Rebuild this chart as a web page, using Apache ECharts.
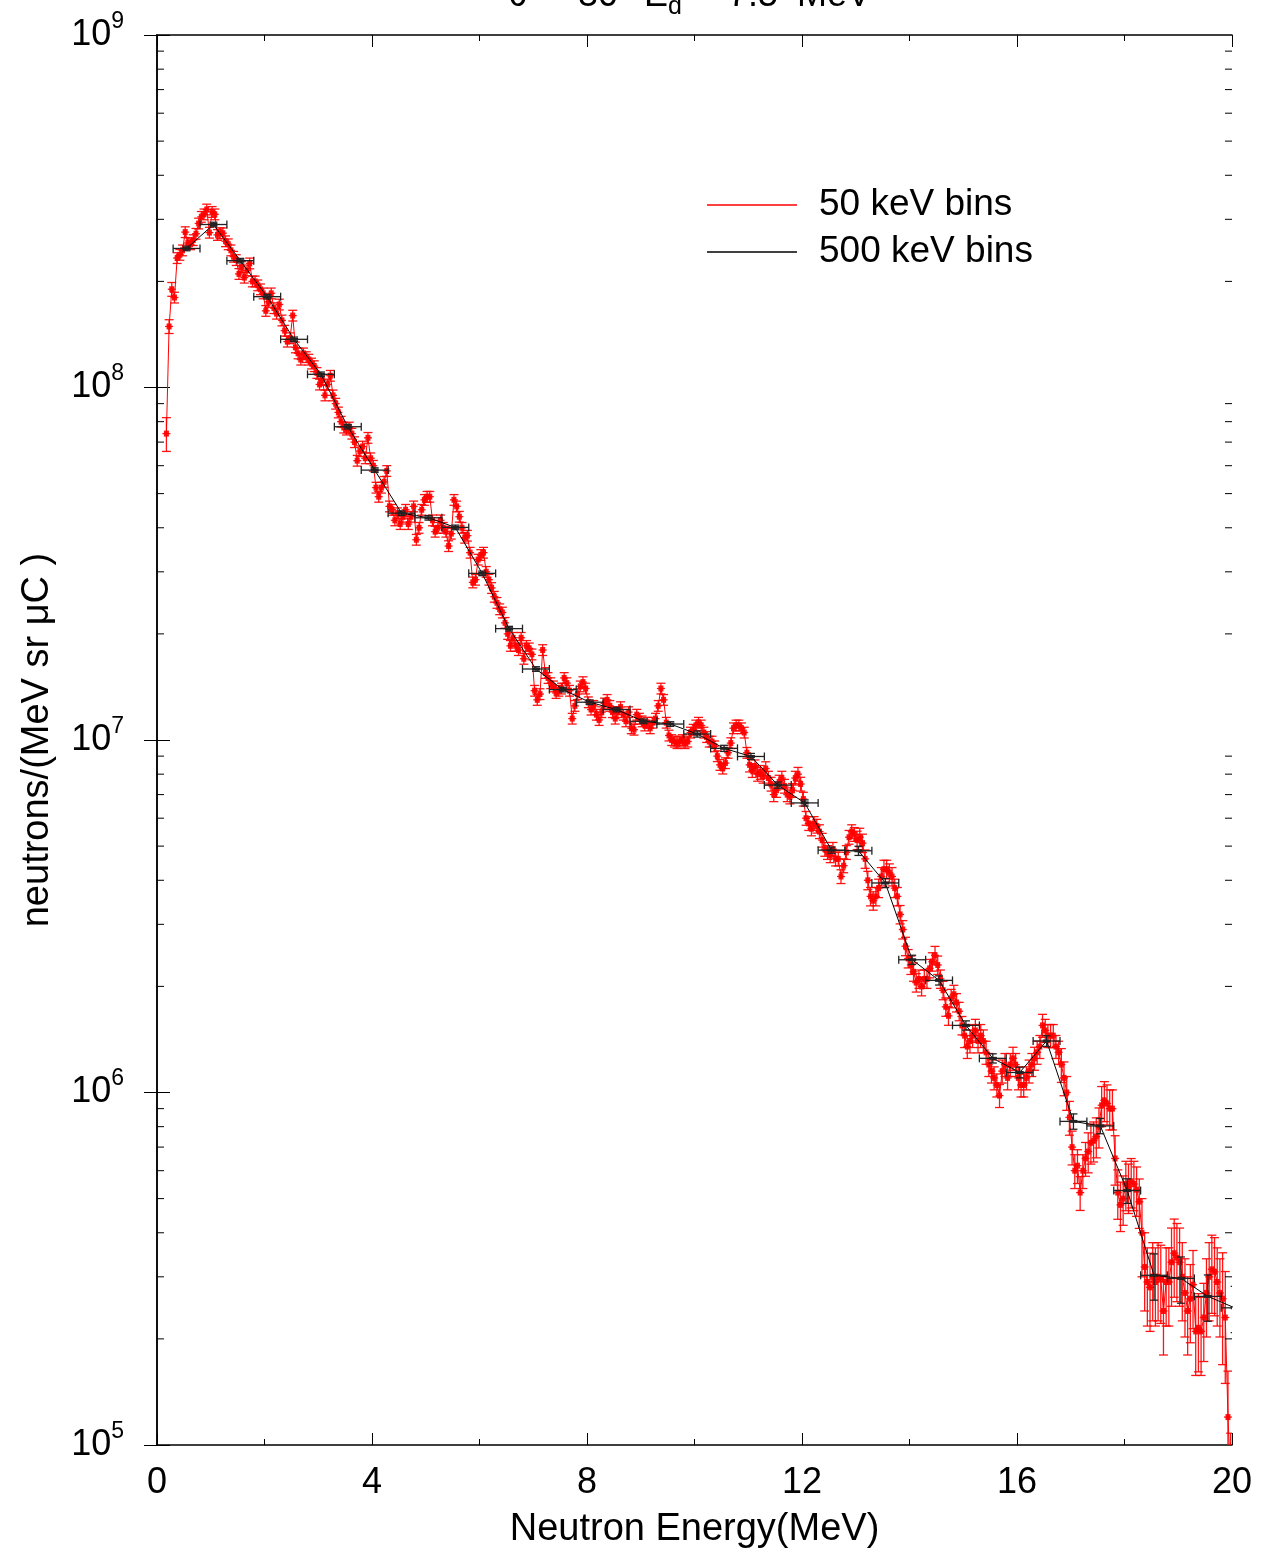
<!DOCTYPE html>
<html><head><meta charset="utf-8">
<script src="https://cdn.jsdelivr.net/npm/echarts@6/dist/echarts.min.js"></script>
<style>html,body{margin:0;padding:0;background:#fff}#c{width:1266px;height:1564px}</style>
</head><body><div id="c"></div>
<script>
// ---------------- data ----------------
const redStartE = 0.175;   // MeV, centre of first 50 keV bin
const redBinW = 0.05;      // MeV
const red50keV = [
  7.4e7, 1.49e8, 1.9e8,
  1.8e8, 2.33e8, 2.38e8, 2.45e8, 2.76e8, 2.57e8, 2.55e8, 2.62e8, 2.73e8, 2.92e8,
  3.05e8, 3.1e8, 3.2e8, 2.75e8, 3.15e8, 3.1e8, 2.71e8, 2.74e8, 2.74e8, 2.6e8,
  2.55e8, 2.45e8, 2.35e8, 2.3e8, 2.1e8, 2.2e8, 2.05e8, 2.15e8, 2.25e8, 2.0e8,
  2.0e8, 1.95e8, 1.9e8, 1.85e8, 1.65e8, 1.75e8, 1.85e8, 1.68e8, 1.62e8, 1.72e8,
  1.55e8, 1.45e8, 1.35e8, 1.38e8, 1.6e8, 1.3e8, 1.25e8, 1.2e8, 1.25e8, 1.22e8,
  1.2e8, 1.17e8, 1.15e8, 1.1e8, 1.02e8, 1.05e8, 9.5e7, 1.02e8, 1.08e8, 9.5e7,
  9.0e7, 8.5e7, 8.0e7, 7.7e7, 7.6e7, 7.7e7, 7.4e7, 7.0e7, 6.2e7, 6.6e7,
  6.8e7, 6.3e7, 7.2e7, 6.3e7, 6.0e7, 5.2e7, 4.9e7, 5.2e7, 5.4e7, 5.8e7,
  4.6e7, 4.5e7, 4.2e7, 4.4e7, 4.1e7, 4.3e7, 4.5e7, 4.1e7, 4.3e7, 4.6e7,
  3.7e7, 4.0e7, 4.5e7, 4.8e7, 4.9e7, 4.9e7, 4.2e7, 3.9e7, 4.0e7, 4.2e7,
  4.0e7, 3.9e7, 3.55e7, 3.85e7, 4.8e7, 4.6e7, 4.3e7, 4.0e7, 3.75e7, 3.8e7,
  3.4e7, 2.8e7, 2.85e7, 3.25e7, 3.35e7, 3.4e7, 3.0e7, 2.85e7, 2.7e7, 2.55e7,
  2.45e7, 2.35e7, 2.3e7, 2.15e7, 2.0e7, 1.85e7, 1.95e7, 1.85e7, 1.8e7, 1.95e7,
  1.7e7, 1.85e7, 1.82e7, 1.75e7, 1.38e7, 1.3e7, 1.35e7, 1.8e7, 1.55e7, 1.5e7,
  1.45e7, 1.42e7, 1.36e7, 1.38e7, 1.4e7, 1.5e7, 1.45e7, 1.38e7, 1.15e7, 1.25e7,
  1.35e7, 1.42e7, 1.46e7, 1.4e7, 1.28e7, 1.22e7, 1.25e7, 1.18e7, 1.14e7, 1.2e7,
  1.27e7, 1.3e7, 1.25e7, 1.2e7, 1.15e7, 1.2e7, 1.24e7, 1.18e7, 1.13e7, 1.2e7,
  1.08e7, 1.07e7, 1.18e7, 1.15e7, 1.13e7, 1.1e7, 1.12e7, 1.08e7, 1.12e7, 1.15e7,
  1.25e7, 1.4e7, 1.3e7, 1.12e7, 1.03e7, 1.0e7, 9.9e6, 9.8e6, 9.9e6, 1.0e7,
  9.8e6, 9.9e6, 1.05e7, 1.07e7, 1.1e7, 1.12e7, 1.1e7, 1.05e7, 1.02e7, 9.9e6,
  9.9e6, 9.6e6, 9.0e6, 8.5e6, 8.3e6, 8.6e6, 9.2e6, 9.8e6, 1.08e7, 1.1e7,
  1.1e7, 1.08e7, 1.05e7, 9.2e6, 8.5e6, 8.2e6, 8.4e6, 8.0e6, 8.1e6, 7.9e6,
  8.3e6, 7.8e6, 7.5e6, 7.0e6, 7.2e6, 7.6e6, 7.8e6, 7.4e6, 7.0e6, 6.9e6,
  7.2e6, 7.8e6, 8.0e6, 7.5e6, 6.8e6, 6.0e6, 5.8e6, 5.6e6, 5.8e6, 5.7e6,
  5.5e6, 5.2e6, 4.9e6, 4.8e6, 4.7e6, 4.9e6, 4.6e6, 4.6e6, 4.1e6, 4.4e6,
  4.8e6, 5.3e6, 5.5e6, 5.4e6, 5.2e6, 5.3e6, 5.1e6, 4.6e6, 4.0e6, 3.6e6,
  3.5e6, 3.6e6, 3.8e6, 4.1e6, 4.3e6, 4.3e6, 4.2e6, 4.1e6, 3.8e6, 3.6e6,
  3.2e6, 2.9e6, 2.6e6, 2.4e6, 2.3e6, 2.2e6, 2.05e6, 2.1e6, 2.0e6, 2.1e6,
  2.1e6, 2.25e6, 2.35e6, 2.45e6, 2.3e6, 2.1e6, 1.95e6, 1.75e6, 1.65e6, 1.85e6,
  1.9e6, 1.8e6, 1.7e6, 1.55e6, 1.45e6, 1.35e6, 1.4e6, 1.45e6, 1.5e6, 1.4e6,
  1.45e6, 1.4e6, 1.3e6, 1.2e6, 1.15e6, 1.1e6, 1.05e6, 9.8e5, 1.15e6, 1.2e6,
  1.1e6, 1.2e6, 1.25e6, 1.2e6, 1.1e6, 1.05e6, 1.05e6, 1.1e6, 1.15e6, 1.2e6,
  1.25e6, 1.3e6, 1.35e6, 1.55e6, 1.5e6, 1.45e6, 1.45e6, 1.45e6, 1.35e6, 1.3e6,
  1.2e6, 1.1e6, 1.0e6, 8.5e5, 7.0e5, 6.0e5, 6.2e5, 5.2e5, 6.0e5, 6.5e5,
  6.8e5, 7.2e5, 7.3e5, 7.5e5, 8.0e5, 9.2e5, 9.5e5, 9.3e5, 9.0e5, 9.0e5,
  6.5e5, 5.2e5, 4.8e5, 5.0e5, 5.5e5, 5.4e5, 5.6e5, 5.5e5, 5.3e5, 4.9e5,
  4.0e5, 3.2e5, 2.9e5, 2.8e5, 3.0e5, 2.9e5, 3.0e5, 2.95e5, 2.4e5, 2.9e5,
  2.9e5, 3.3e5, 3.5e5, 3.4e5, 3.3e5, 3.0e5, 2.7e5, 2.4e5, 2.6e5, 2.85e5,
  2.1e5, 2.15e5, 2.1e5, 2.3e5, 2.7e5, 3.0e5, 3.15e5, 3.1e5, 2.9e5, 2.7e5,
  2.6e5, 2.3e5, 1.2e5, 8.0e4
];
// relative error of the 50 keV points, by energy range [from MeV, rel. error]
const redErrSteps = [[0.15,0.11],[0.2,0.045],[0.3,0.035],[11,0.045],[13,0.06],[15,0.075],[16.8,0.11],[17.3,0.13],[17.8,0.16],[18.3,0.25],[19.8,0.35]];

const blackStartE = 0.55;  // MeV, centre of first 500 keV bin
const blackBinW = 0.5;     // MeV
const black500keV = [
  2.48e8, 2.9e8, 2.29e8, 1.81e8, 1.37e8, 1.09e8, 7.74e7, 5.83e7, 4.4e7, 4.27e7,
  4.01e7, 2.97e7, 2.07e7, 1.59e7, 1.39e7, 1.28e7, 1.22e7, 1.13e7, 1.11e7, 1.04e7,
  9.47e6, 8.98e6, 7.45e6, 6.63e6, 4.87e6, 4.85e6, 3.93e6, 2.38e6, 2.08e6, 1.55e6,
  1.25e6, 1.14e6, 1.40e6, 8.28e5, 8.04e5, 5.27e5, 3.03e5, 2.97e5, 2.64e5, 2.45e5
];
const blackErrSteps = [[0,0.015],[10,0.02],[13,0.03],[16,0.035],[17,0.05],[18,0.08],[18.3,0.15]];

const xTicks = [0, 4, 8, 12, 16, 20];
const yDecades = [5, 6, 7, 8, 9];
const yMinorTicks = [];
for (let d = 5; d < 9; d++) for (let m = 2; m <= 9; m++) yMinorTicks.push(m * Math.pow(10, d));

// ---------------- chart ----------------
const FONT = "'Liberation Sans', Arial, Helvetica, sans-serif";
function relErr(steps, e) { let r = steps[0][1]; for (const s of steps) if (e >= s[0]) r = s[1]; return r; }

const redData = red50keV.map((v, i) => {
  const e = +(redStartE + i * redBinW).toFixed(3);
  const r = relErr(redErrSteps, e);
  return [e, v, v * (1 - r), v * (1 + r)];
});
const blackData = black500keV.map((v, i) => {
  const e = +(blackStartE + i * blackBinW).toFixed(3);
  const r = relErr(blackErrSteps, e);
  return [e, v, v * (1 - r), v * (1 + r)];
});

const RED = 'rgba(255,0,0,0.92)';
const DARK = '#222';

const chart = echarts.init(document.getElementById('c'), null, { renderer: 'canvas' });
chart.setOption({
  animation: false,
  backgroundColor: '#fff',
  textStyle: { fontFamily: FONT },
  grid: { left: 157, right: 34, top: 35, bottom: 119, containLabel: false },
  legend: {
    data: [
      { name: '50 keV bins', icon: 'rect', itemStyle: { color: '#ff0000' } },
      { name: '500 keV bins', icon: 'rect', itemStyle: { color: '#000' } }
    ],
    orient: 'vertical', left: 702, top: 180,
    itemWidth: 90, itemHeight: 1.3, itemGap: 7,
    textStyle: { fontSize: 37, color: '#000', fontFamily: FONT, lineHeight: 40, padding: [0, 0, 0, 17] },
    selectedMode: false
  },
  graphic: [
    { type: 'text', x: 508, y: 14, style: { text: 'θ =', fontSize: 36, fontFamily: FONT, fill: '#000', verticalAlign: 'bottom' } },
    { type: 'text', x: 578, y: 14, style: { text: '30°', fontSize: 36, fontFamily: FONT, fill: '#000', verticalAlign: 'bottom' } },
    { type: 'text', x: 644, y: 14, style: { text: 'E', fontSize: 36, fontFamily: FONT, fill: '#000', verticalAlign: 'bottom' } },
    { type: 'text', x: 668, y: 20, style: { text: 'd', fontSize: 25, fontFamily: FONT, fill: '#000', verticalAlign: 'bottom' } },
    { type: 'text', x: 697, y: 14, style: { text: '= 7.5', fontSize: 36, fontFamily: FONT, fill: '#000', verticalAlign: 'bottom' } },
    { type: 'text', x: 797, y: 14, style: { text: 'MeV', fontSize: 36, fontFamily: FONT, fill: '#000', verticalAlign: 'bottom' } }
  ],
  xAxis: [{
    type: 'value', min: 0, max: 20, interval: 4,
    name: 'Neutron Energy(MeV)', nameLocation: 'middle', nameGap: 66,
    nameTextStyle: { fontSize: 38, color: '#000', fontFamily: FONT },
    axisLine: { show: true, lineStyle: { color: '#000', width: 1.5 } },
    axisTick: { show: true, inside: true, length: 12, lineStyle: { color: '#000', width: 1 } },
    minorTick: { show: true, splitNumber: 2, length: 6, lineStyle: { color: '#000', width: 1 } },
    axisLabel: { fontSize: 36, color: '#000', margin: 20, fontFamily: FONT,
      formatter: v => (xTicks.indexOf(v) >= 0 ? String(v) : '') },
    splitLine: { show: false }
  }, {
    type: 'value', min: 0, max: 20, interval: 4, position: 'top',
    axisLine: { show: true, lineStyle: { color: '#000', width: 1.5 } },
    axisTick: { show: true, inside: true, length: 12, lineStyle: { color: '#000', width: 1 } },
    minorTick: { show: true, splitNumber: 2, length: 6, lineStyle: { color: '#000', width: 1 } },
    axisLabel: { show: false }, splitLine: { show: false }
  }],
  yAxis: [{
    type: 'log', logBase: 10, min: 1e5, max: 1e9,
    name: 'neutrons/(MeV sr μC )', nameLocation: 'middle', nameGap: 100, nameRotate: 90,
    nameTextStyle: { fontSize: 38, color: '#000', fontFamily: FONT },
    axisLine: { show: true, lineStyle: { color: '#000', width: 1.5 } },
    axisTick: { show: true, inside: true, length: 13, lineStyle: { color: '#000', width: 1 } },
    axisLabel: {
      margin: 33, color: '#000', fontFamily: FONT,
      formatter: v => { const e = Math.round(Math.log10(v)); return yDecades.indexOf(e) >= 0 ? '{b|10}{s|' + e + '}' : ''; },
      rich: {
        b: { fontSize: 36, lineHeight: 50, fontFamily: FONT, color: '#000' },
        s: { fontSize: 23, lineHeight: 24, verticalAlign: 'top', fontFamily: FONT, color: '#000' }
      }
    },
    splitLine: { show: false }
  }, {
    type: 'log', logBase: 10, min: 1e5, max: 1e9, position: 'right',
    axisLine: { show: true, lineStyle: { color: '#000', width: 1.5 } },
    axisTick: { show: true, inside: true, length: 13, lineStyle: { color: '#000', width: 1 } },
    axisLabel: { show: false }, splitLine: { show: false }
  }],
  series: [
    {
      name: '50 keV bins', type: 'line', data: redData.map(d => [d[0], d[1]]),
      showSymbol: false, symbol: 'none', z: 2, clip: true,
      lineStyle: { color: '#ff0000', width: 1 }, itemStyle: { color: '#ff0000' }
    },
    {
      name: '50 keV bins', type: 'custom', z: 3, clip: true, silent: true,
      data: redData, encode: { x: 0, y: [1, 2, 3] },
      renderItem: (params, api) => {
        const e = api.value(0);
        const p = api.coord([e, api.value(1)]);
        const lo = api.coord([e, api.value(2)]);
        const hi = api.coord([e, api.value(3)]);
        const st = { stroke: RED, lineWidth: 1.3 };
        const cw = 4.5;
        return { type: 'group', children: [
          { type: 'line', shape: { x1: p[0], y1: lo[1], x2: p[0], y2: hi[1] }, style: st },
          { type: 'line', shape: { x1: p[0] - cw, y1: lo[1], x2: p[0] + cw, y2: lo[1] }, style: st },
          { type: 'line', shape: { x1: p[0] - cw, y1: hi[1], x2: p[0] + cw, y2: hi[1] }, style: st },
          { type: 'line', shape: { x1: p[0] - 4, y1: p[1], x2: p[0] + 4, y2: p[1] }, style: st },
          { type: 'rect', shape: { x: p[0] - 2.5, y: p[1] - 3, width: 5, height: 6 }, style: { fill: RED } }
        ] };
      }
    },
    {
      name: '500 keV bins', type: 'line', data: blackData.map(d => [d[0], d[1]]),
      showSymbol: false, symbol: 'none', z: 4, clip: true,
      lineStyle: { color: '#000', width: 1 }, itemStyle: { color: '#000' }
    },
    {
      name: '500 keV bins', type: 'custom', z: 5, clip: true, silent: true,
      data: blackData, encode: { x: 0, y: [1, 2, 3] },
      renderItem: (params, api) => {
        const e = api.value(0), v = api.value(1);
        const p = api.coord([e, v]);
        const l = api.coord([e - blackBinW / 2, v]);
        const r = api.coord([e + blackBinW / 2, v]);
        const lo = api.coord([e, api.value(2)]);
        const hi = api.coord([e, api.value(3)]);
        const st = { stroke: DARK, lineWidth: 1.3 };
        const c = 4;
        return { type: 'group', children: [
          { type: 'line', shape: { x1: l[0], y1: p[1], x2: r[0], y2: p[1] }, style: st },
          { type: 'line', shape: { x1: l[0], y1: p[1] - c, x2: l[0], y2: p[1] + c }, style: st },
          { type: 'line', shape: { x1: r[0], y1: p[1] - c, x2: r[0], y2: p[1] + c }, style: st },
          { type: 'line', shape: { x1: p[0], y1: lo[1], x2: p[0], y2: hi[1] }, style: st },
          { type: 'line', shape: { x1: p[0] - c, y1: lo[1], x2: p[0] + c, y2: lo[1] }, style: st },
          { type: 'line', shape: { x1: p[0] - c, y1: hi[1], x2: p[0] + c, y2: hi[1] }, style: st },
          { type: 'rect', shape: { x: p[0] - 4, y: p[1] - 1.5, width: 8, height: 3 }, style: { fill: DARK } }
        ] };
      }
    },
    {
      name: 'yMinorTicks', type: 'custom', z: 6, silent: true, clip: false,
      data: yMinorTicks.map(v => [0, v]), encode: { x: 0, y: 1 },
      renderItem: (params, api) => {
        const cs = params.coordSys;
        const y = api.coord([0, api.value(1)])[1];
        const st = { stroke: '#000', lineWidth: 1 };
        return { type: 'group', children: [
          { type: 'line', shape: { x1: cs.x, y1: y, x2: cs.x + 7, y2: y }, style: st },
          { type: 'line', shape: { x1: cs.x + cs.width - 7, y1: y, x2: cs.x + cs.width, y2: y }, style: st }
        ] };
      }
    }
  ]
});
</script></body></html>
